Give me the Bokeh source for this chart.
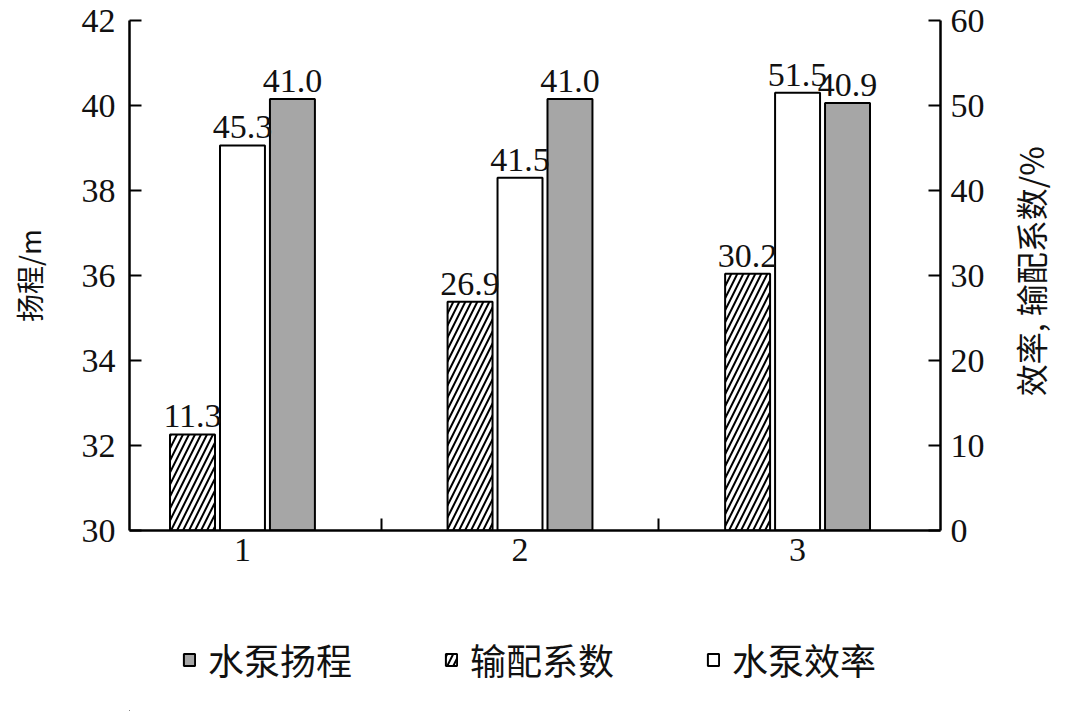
import math
from bokeh.plotting import figure
from bokeh.layouts import column, row
from bokeh.models import (Range1d, LinearAxis, FixedTicker, ColumnDataSource,
                          Legend, LegendItem, LabelSet, Label)
from bokeh.embed import file_html
from bokeh.resources import INLINE

# ---- data ----
groups = [1, 2, 3]
group_labels = ["1", "2", "3"]
head_m = [41.0, 41.0, 40.9]        # 水泵扬程 / m
coef_pct = [11.3, 26.9, 30.2]      # 输配系数 / %
eff_pct = [45.3, 41.5, 51.5]       # 水泵效率 / %
series_names = ["水泵扬程", "输配系数", "水泵效率"]
left_ticks = [30, 32, 34, 36, 38, 40, 42]
right_ticks = [0, 10, 20, 30, 40, 50, 60]
y_title_left = "扬程/m"
y_title_right = "效率, 输配系数/%"

SERIF = "Liberation Serif"
CJK = "Noto Sans CJK SC"
TXT = "#111111"

p = figure(width=1004, height=590,
           x_range=Range1d(0.593, 3.515), y_range=Range1d(30, 42),
           output_backend="svg", toolbar_location=None,
           min_border_left=129, min_border_right=64,
           min_border_top=20, min_border_bottom=60)
p.extra_y_ranges = {"pct": Range1d(0, 60), "headbar": Range1d(30, 43)}
p.outline_line_color = None
p.xgrid.visible = False
p.ygrid.visible = False

bw = 0.162
off = 0.18
src_coef = ColumnDataSource(dict(x=[g - off for g in groups], top=coef_pct,
                                 txt=[f"{v:.1f}" for v in coef_pct]))
src_eff = ColumnDataSource(dict(x=[g for g in groups], top=eff_pct,
                                txt=[f"{v:.1f}" for v in eff_pct]))
src_head = ColumnDataSource(dict(x=[g + off for g in groups], top=head_m,
                                 txt=[f"{v:.1f}" for v in head_m]))

coef_style = dict(fill_color="white", line_color="black", line_width=2,
                  hatch_pattern="right_diagonal_line", hatch_color="black",
                  hatch_scale=12, hatch_weight=2)
eff_style = dict(fill_color="white", line_color="black", line_width=2)
head_style = dict(fill_color="#a6a6a6", line_color="black", line_width=2)

p.vbar(x="x", top="top", bottom=0, width=bw, source=src_coef,
       y_range_name="pct", **coef_style)
p.vbar(x="x", top="top", bottom=0, width=bw, source=src_eff,
       y_range_name="pct", **eff_style)
p.vbar(x="x", top="top", bottom=30, width=bw, source=src_head,
       y_range_name="headbar", **head_style)

for src, rng in ((src_coef, "pct"), (src_eff, "pct"), (src_head, "headbar")):
    p.add_layout(LabelSet(x="x", y="top", text="txt", source=src,
                          y_range_name=rng, text_align="center",
                          text_baseline="alphabetic", y_offset=7,
                          text_font=SERIF, text_font_size="34px",
                          text_color=TXT))

# x axis
xa = p.xaxis[0]
xa.ticker = FixedTicker(ticks=groups, minor_ticks=[1.5, 2.5])
xa.major_label_overrides = {g: l for g, l in zip(groups, group_labels)}
xa.major_tick_in = 0
xa.major_tick_out = 0
xa.minor_tick_in = 12
xa.minor_tick_out = 0
xa.minor_tick_line_width = 2
xa.axis_line_width = 2.5
xa.major_label_standoff = 8
xa.major_label_text_font = SERIF
xa.major_label_text_font_size = "34px"
xa.major_label_text_color = TXT

# left axis
ya = p.yaxis[0]
ya.ticker = FixedTicker(ticks=left_ticks)
ya.major_tick_in = 12
ya.major_tick_out = 0
ya.major_tick_line_width = 2
ya.minor_tick_line_color = None
ya.axis_line_width = 2.5
ya.major_label_standoff = 14
ya.major_label_text_font = SERIF
ya.major_label_text_font_size = "34px"
ya.major_label_text_color = TXT
ya.axis_label = y_title_left
ya.axis_label_text_font = CJK
ya.axis_label_text_font_style = "normal"
ya.axis_label_text_font_size = "28px"
ya.axis_label_standoff = 30
ya.axis_label_text_color = TXT

# right axis (ticks and numbers)
ra = LinearAxis(y_range_name="pct", ticker=FixedTicker(ticks=right_ticks))
ra.major_tick_in = 12
ra.major_tick_out = 0
ra.major_tick_line_width = 2
ra.minor_tick_line_color = None
ra.axis_line_width = 2.5
ra.major_label_standoff = 10
ra.major_label_text_font = SERIF
ra.major_label_text_font_size = "34px"
ra.major_label_text_color = TXT
p.add_layout(ra, "right")

# ---- right-hand title strip (text reads bottom-to-top) ----
tf = figure(width=60, height=590, x_range=Range1d(0, 1), y_range=Range1d(30, 42),
            output_backend="svg", toolbar_location=None,
            x_axis_location=None, y_axis_location=None,
            min_border_left=0, min_border_right=0,
            min_border_top=20, min_border_bottom=60)
tf.grid.visible = False
tf.outline_line_color = None
tf.add_layout(Label(x=0.42, y=36.1, text=y_title_right, angle=math.pi / 2,
                    text_align="center", text_baseline="middle",
                    text_font=CJK, text_font_size="32px", text_color=TXT))

# ---- legend strip below the chart ----
lg = figure(width=1064, height=121, x_range=Range1d(0, 1), y_range=Range1d(0, 1),
            output_backend="svg", toolbar_location=None,
            x_axis_location=None, y_axis_location=None,
            min_border_left=129, min_border_right=124, min_border_top=0,
            min_border_bottom=0)
lg.grid.visible = False
lg.outline_line_color = None
hidden = lambda: ColumnDataSource(dict(x=[-10], top=[-10]))
l_head = lg.vbar(x="x", top="top", bottom=-11, width=0.1, source=hidden(), **head_style)
l_coef = lg.vbar(x="x", top="top", bottom=-11, width=0.1, source=hidden(), **coef_style)
l_eff = lg.vbar(x="x", top="top", bottom=-11, width=0.1, source=hidden(), **eff_style)
legend = Legend(items=[LegendItem(label=series_names[0], renderers=[l_head]),
                       LegendItem(label=series_names[1], renderers=[l_coef]),
                       LegendItem(label=series_names[2], renderers=[l_eff])],
                orientation="horizontal", location=(53, 26),
                label_text_font=CJK, label_text_font_size="36px",
                label_text_color=TXT,
                glyph_width=14, glyph_height=15, label_standoff=12,
                spacing=92, border_line_color=None,
                background_fill_alpha=0, margin=0, padding=0)
lg.add_layout(legend, "center")

layout = column(row(p, tf, spacing=0), lg, spacing=0)
open("out.html", "w").write(file_html(layout, INLINE))
